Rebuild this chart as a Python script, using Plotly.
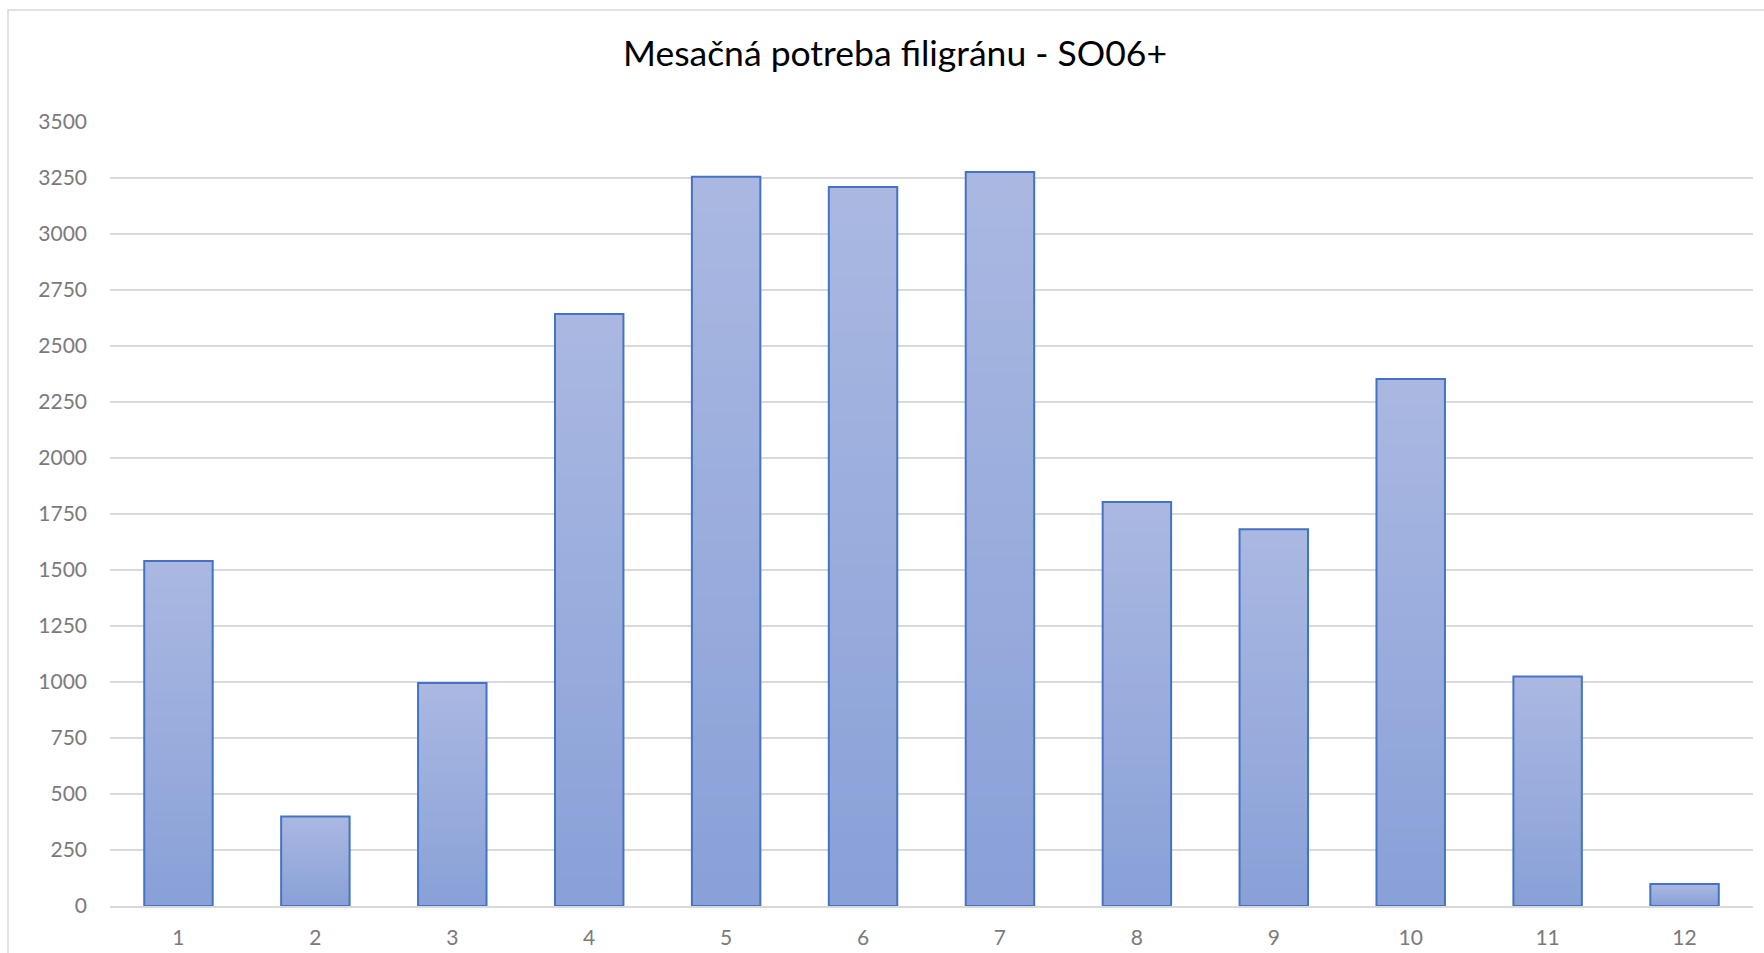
import plotly.graph_objects as go

months = ["1", "2", "3", "4", "5", "6", "7", "8", "9", "10", "11", "12"]
values = [1540, 400, 995, 2643, 3256, 3210, 3277, 1804, 1682, 2353, 1025, 98]
y_ticks = [0, 250, 500, 750, 1000, 1250, 1500, 1750, 2000, 2250, 2500, 2750, 3000, 3250, 3500]
title_text = "Mesačná potreba filigránu - SO06+"

W, H = 1764, 953
L, R, T, B = 110, 11, 122, 47

top_rgb = (170, 184, 225)
bot_rgb = (136, 160, 216)
N = 40

fig = go.Figure()
# vertical gradient: stacked-down overlays, each shorter and darker
for k in range(N):
    f = k / N
    c = tuple(round(top_rgb[i] + (bot_rgb[i] - top_rgb[i]) * f) for i in range(3))
    fig.add_trace(go.Bar(
        x=months, y=[v * (1 - f) for v in values],
        marker=dict(color="rgb(%d,%d,%d)" % c, line=dict(width=0)),
        width=0.5, hoverinfo="skip", showlegend=False,
    ))
fig.add_trace(go.Bar(
    x=months, y=values,
    marker=dict(color="rgba(0,0,0,0)", line=dict(color="#4472c4", width=2)),
    width=0.5, showlegend=False,
))

pw = W - L - R
ph = H - T - B
fig.add_shape(type="rect", xref="paper", yref="paper",
              x0=(8 - L) / pw, x1=(W + 30 - L) / pw,
              y0=-(B + 30) / ph, y1=1 + (T - 10) / ph,
              line=dict(color="#d9d9d9", width=1.5), fillcolor="rgba(0,0,0,0)", layer="below")

fig.update_layout(
    width=W, height=H,
    margin=dict(l=L, r=R, t=T, b=B, autoexpand=False),
    paper_bgcolor="white", plot_bgcolor="white",
    barmode="overlay",
    title=dict(text=title_text, x=895 / W, xref="container", xanchor="center",
               y=1 - 54 / H, yref="container", yanchor="middle",
               font=dict(family="Lato", size=35.5, color="#000000")),
    xaxis=dict(type="category", showgrid=False, showline=True, linecolor="#d9d9d9", linewidth=1.5,
               ticks="", tickfont=dict(family="Lato", size=21, color="#7a7a7a"),
               ticklabelstandoff=12, automargin=False),
    yaxis=dict(range=[0, 3500], tickvals=y_ticks, showgrid=True, gridcolor="#d9d9d9", gridwidth=1.5,
               zeroline=False, showline=False, ticks="",
               tickfont=dict(family="Lato", size=21, color="#7a7a7a"),
               ticklabelstandoff=22, automargin=False),
    font=dict(family="Lato"),
)

fig.write_html("out.html", config={"displayModeBar": False},
               post_script="document.body.style.margin='0';document.body.style.overflow='hidden';")
